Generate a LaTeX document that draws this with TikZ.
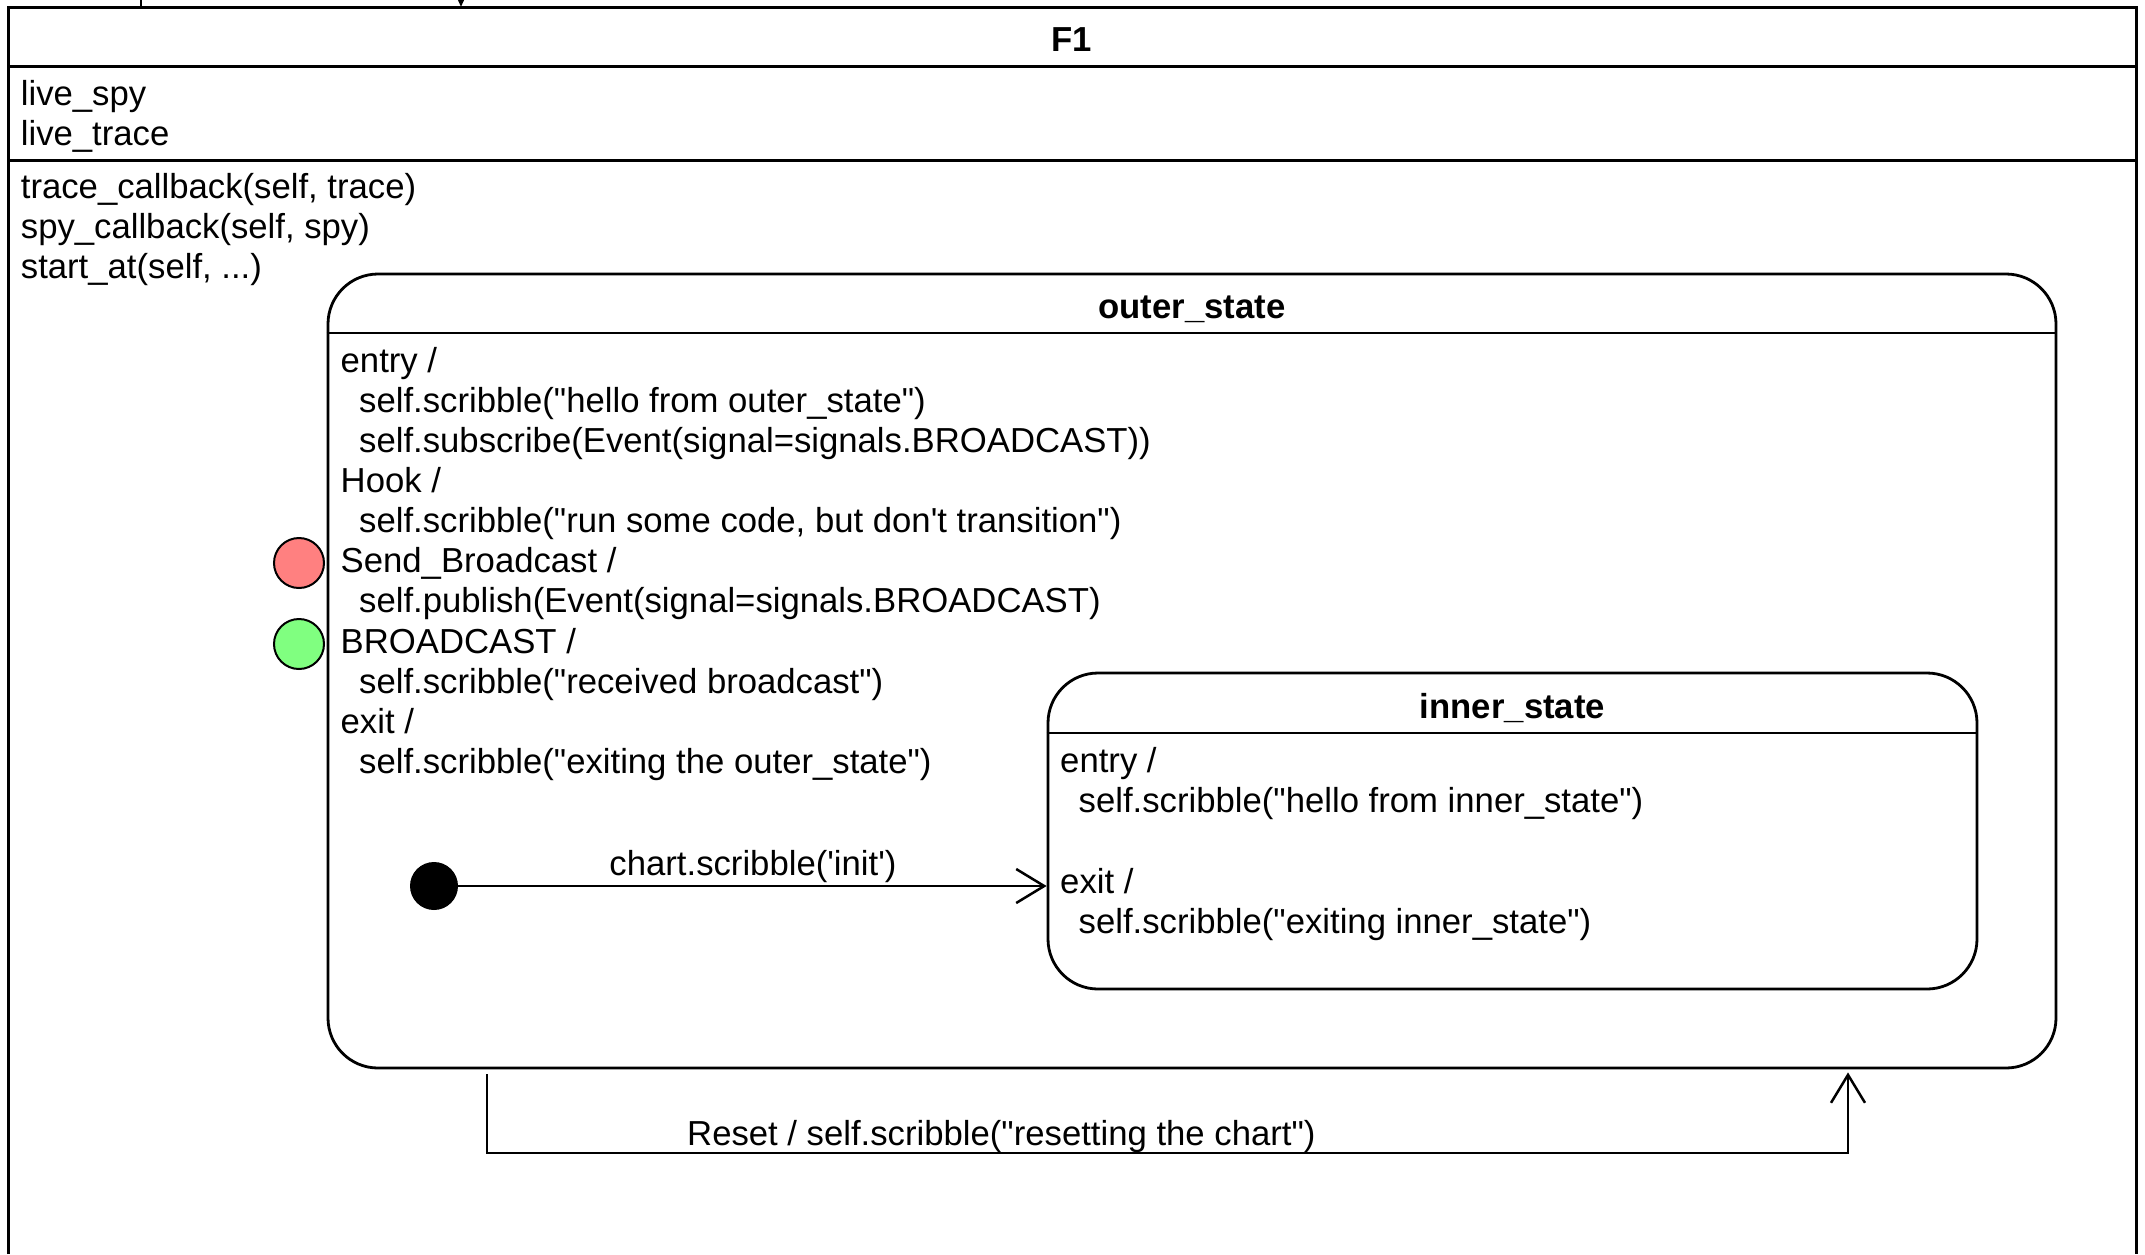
\documentclass[tikz,border=0pt]{standalone}
\usepackage{fontspec}
\setmainfont{Liberation Sans}
\usetikzlibrary{arrows.meta}
\definecolor{sigred}{RGB}{255,128,128}
\definecolor{siggreen}{RGB}{128,255,128}
\newcommand\dqt{\textquotedbl}
\begin{document}
\begin{tikzpicture}[x=1pt,y=-1pt,
  txt/.style={anchor=north west, inner sep=0pt, align=left, font=\fontsize{34.7}{40.1}\selectfont},
  lbl/.style={anchor=base, inner sep=0pt, font=\fontsize{34.7}{40.1}\selectfont},
  ttl/.style={anchor=base, inner sep=0pt, font=\fontsize{34.7}{40.1}\selectfont\bfseries},
  frame/.style={line width=3pt, line join=miter},
  statebox/.style={draw, rectangle, rounded corners=50pt, line width=2.8pt, inner sep=0pt},
  sepline/.style={line width=2.8pt},
  sig/.style={circle, draw, line width=2pt, minimum size=50pt, inner sep=0pt},
  trans/.style={line width=2.5pt, line join=miter, -{Straight Barb[length=28pt,width=34pt,line width=2.5pt]}},
]
\useasboundingbox (0,0) rectangle (2145,1254);

% ---- F1 container (open at the bottom) ----
\coordinate (f1bl) at (8,1254);
\coordinate (f1tl) at (8,7);
\coordinate (f1tr) at (2136,7);
\coordinate (f1br) at (2136,1254);
\draw[frame] (f1bl) -- (f1tl) -- (f1tr) -- (f1br);
\draw[frame] (8,66.5) -- (2136,66.5);
\draw[frame] (8,160) -- (2136,160);
\node[ttl] (f1name) at (1072,51) {F1};
\node[txt] (f1attr) at (20.7,77.1) {\strut live\_spy\\live\_trace};
\node[txt] (f1meth) at (20.7,170.1) {\strut trace\_callback(self, trace)\\spy\_callback(self, spy)\\start\_at(self, ...)};

% ---- stubs of connectors entering from above ----
\coordinate (stubA) at (141,-10);
\draw[line width=2.4pt] (stubA) -- (stubA |- f1tl);
\coordinate (stubB) at (461,-30);
\draw[line width=2.4pt, -{Triangle[length=12pt,width=10pt]}] (stubB) -- (stubB |- f1tl);

% ---- outer_state ----
\node[statebox, minimum width=1728pt, minimum height=794pt] (outer) at (1192,671) {};
\coordinate (outerhdr) at (0,333);
\draw[sepline] (outer.west |- outerhdr) -- (outer.east |- outerhdr);
\node[ttl] (outername) at (1192,318) {outer\_state};
\node[txt] (outerbody) at (340.5,344.1) {\strut entry /\\
\hspace*{18.5pt}self.scribble(\dqt hello from outer\_state\dqt)\\
\hspace*{18.5pt}self.subscribe(Event(signal=signals.BROADCAST))\\
Hook /\\
\hspace*{18.5pt}self.scribble(\dqt run some code, but don\textquotesingle t transition\dqt)\\
Send\_Broadcast /\\
\hspace*{18.5pt}self.publish(Event(signal=signals.BROADCAST)\\
BROADCAST /\\
\hspace*{18.5pt}self.scribble(\dqt received broadcast\dqt)\\
exit /\\
\hspace*{18.5pt}self.scribble(\dqt exiting the outer\_state\dqt)};

\node[sig, fill=sigred] (sendb) at (299,563) {};
\node[sig, fill=siggreen] (bcast) at (299,644) {};

% ---- inner_state ----
\node[statebox, minimum width=929pt, minimum height=316pt] (inner) at (1512.5,831) {};
\coordinate (innerhdr) at (0,733);
\draw[sepline] (inner.west |- innerhdr) -- (inner.east |- innerhdr);
\node[ttl] (innername) at (1512.5,718) {inner\_state};
\node[txt] (innerbody) at (1060,744.6) {\strut entry /\\
\hspace*{18.5pt}self.scribble(\dqt hello from inner\_state\dqt)\\
\strut\\
exit /\\
\hspace*{18.5pt}self.scribble(\dqt exiting inner\_state\dqt)};

% ---- initial pseudostate and transition ----
\node[circle, fill=black, minimum size=48pt, inner sep=0pt] (init) at (434,886) {};
\draw[trans] (init) -- (init -| inner.west);
\node[lbl] (initlbl) at (753,875.7) {chart.scribble(\textquotesingle init\textquotesingle)};

% ---- reset self transition ----
\coordinate (rs) at (487,1153);
\coordinate (re) at (1848,1153);
\draw[trans, shorten >=3pt] ([yshift=-5pt]outer.south -| rs) -- (rs) -- (re) -- (outer.south -| re);
\node[lbl, anchor=base west] (resetlbl) at (687,1145.7) {Reset / self.scribble(\dqt resetting the chart\dqt)};
\end{tikzpicture}
\end{document}
